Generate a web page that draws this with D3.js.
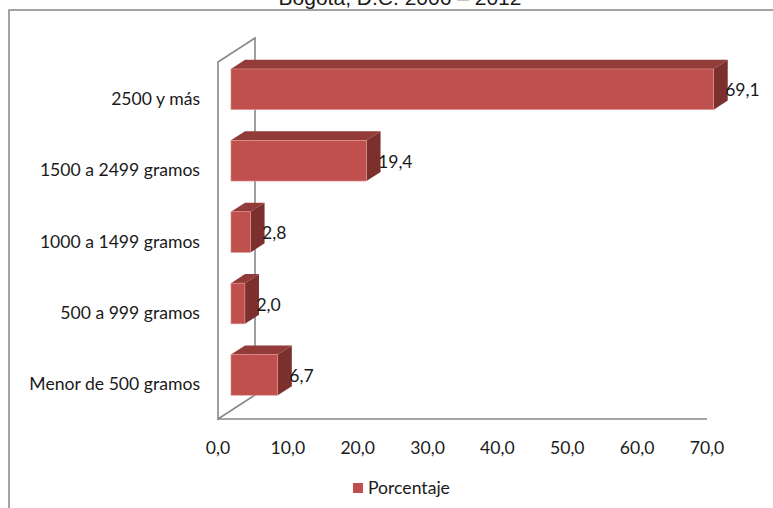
<!DOCTYPE html>
<html>
<head>
<meta charset="utf-8">
<script src="https://cdn.jsdelivr.net/npm/d3@7"></script>
<style>
  body { margin: 0; background: #fff; }
  text { font-family: Lato, "Open Sans", sans-serif; fill: #1a1a1a; }
</style>
</head>
<body>
<svg id="drawing_region"></svg>
<script>
// data
const categories = ['2500 y más', '1500 a 2499 gramos', '1000 a 1499 gramos', '500 a 999 gramos', 'Menor de 500 gramos'];
const values = [69.1, 19.4, 2.8, 2.0, 6.7];
const ticks = [0, 10, 20, 30, 40, 50, 60, 70];
const seriesName = 'Porcentaje';
const title = 'Bogotá, D.C. 2006 – 2012';

const width = 773, height = 508;
const fontSize = '17.6px';
const svg = d3.select('#drawing_region')
    .attr('width', width)
    .attr('height', height);

// chart frame (continues past the right and bottom edges)
svg.append('rect')
    .attr('x', 9).attr('y', 10)
    .attr('width', 800).attr('height', 530)
    .attr('fill', 'none')
    .attr('stroke', '#878787')
    .attr('stroke-width', 1.5);

// title, cut off at the top like the original
svg.append('text')
    .attr('x', 400).attr('y', 5)
    .attr('text-anchor', 'middle')
    .style('font-family', '"Liberation Sans", Arial, sans-serif')
    .style('font-size', '21px')
    .text(title);

const xscale = d3.scaleLinear()
    .domain([0, 70])
    .range([218, 707]);

const yscale = d3.scaleBand()
    .domain(categories)
    .range([62, 419])
    .paddingInner(0.43)
    .paddingOuter(0.215);

// oblique depth of the plot box
const depth = {dx: 37, dy: -24};
const f0 = 0.35, f1 = 0.73;   // bar front / back as fraction of the depth

const x0 = xscale(0), xEnd = xscale(70);
const yTop = yscale.range()[0], yBot = yscale.range()[1];

// walls
const wall = svg.append('g')
    .attr('fill', 'none')
    .attr('stroke', '#888')
    .attr('stroke-width', 1.6);

wall.append('path')
    .attr('d', `M${x0},${yTop} L${x0 + depth.dx},${yTop + depth.dy} L${x0 + depth.dx},${yBot + depth.dy} L${x0},${yBot} Z`);
wall.append('line')
    .attr('x1', x0).attr('y1', yBot)
    .attr('x2', xEnd).attr('y2', yBot);

// bars
const data = categories.map((c, i) => ({label: c, value: values[i]}));
const bh = yscale.bandwidth();
const fx = f0 * depth.dx, fy = f0 * depth.dy;
const ddx = (f1 - f0) * depth.dx, ddy = (f1 - f0) * depth.dy;

const bars = svg.append('g').selectAll('g')
    .data(data)
    .join('g');

bars.append('path')
    .attr('fill', '#7b302e')
    .attr('d', d => {
        const xr = xscale(d.value) + fx, yt = yscale(d.label) + fy;
        return `M${xr},${yt} L${xr + ddx},${yt + ddy} L${xr + ddx},${yt + bh + ddy} L${xr},${yt + bh} Z`;
    });

bars.append('path')
    .attr('fill', '#923b39')
    .attr('d', d => {
        const xl = xscale(0) + fx, xr = xscale(d.value) + fx, yt = yscale(d.label) + fy;
        return `M${xl},${yt} L${xr},${yt} L${xr + ddx},${yt + ddy} L${xl + ddx},${yt + ddy} Z`;
    });

bars.append('rect')
    .attr('x', xscale(0) + fx)
    .attr('y', d => yscale(d.label) + fy)
    .attr('width', d => xscale(d.value) - xscale(0))
    .attr('height', bh)
    .attr('fill', '#c0504d')
    .attr('stroke', '#dc9a98')
    .attr('stroke-width', 0.6);

bars.append('text')
    .attr('x', d => xscale(d.value) + fx + 11.5)
    .attr('y', d => yscale(d.label) + fy + bh / 2 + 7)
    .style('font-size', fontSize)
    .text(d => d3.format('.1f')(d.value).replace('.', ','));

// category labels
svg.append('g').selectAll('text')
    .data(categories)
    .join('text')
    .attr('x', 200)
    .attr('y', d => yscale(d) + bh / 2 + 7)
    .attr('text-anchor', 'end')
    .style('font-size', fontSize)
    .text(d => d);

// value axis labels
svg.append('g').selectAll('text')
    .data(ticks)
    .join('text')
    .attr('x', d => xscale(d))
    .attr('y', 454)
    .attr('text-anchor', 'middle')
    .style('font-size', fontSize)
    .text(d => d3.format('.1f')(d).replace('.', ','));

// legend
const legend = svg.append('g');
legend.append('rect')
    .attr('x', 353).attr('y', 483)
    .attr('width', 10).attr('height', 10)
    .attr('fill', '#c0504d');
legend.append('text')
    .attr('x', 368).attr('y', 494)
    .style('font-size', fontSize)
    .text(seriesName);
</script>
</body>
</html>
